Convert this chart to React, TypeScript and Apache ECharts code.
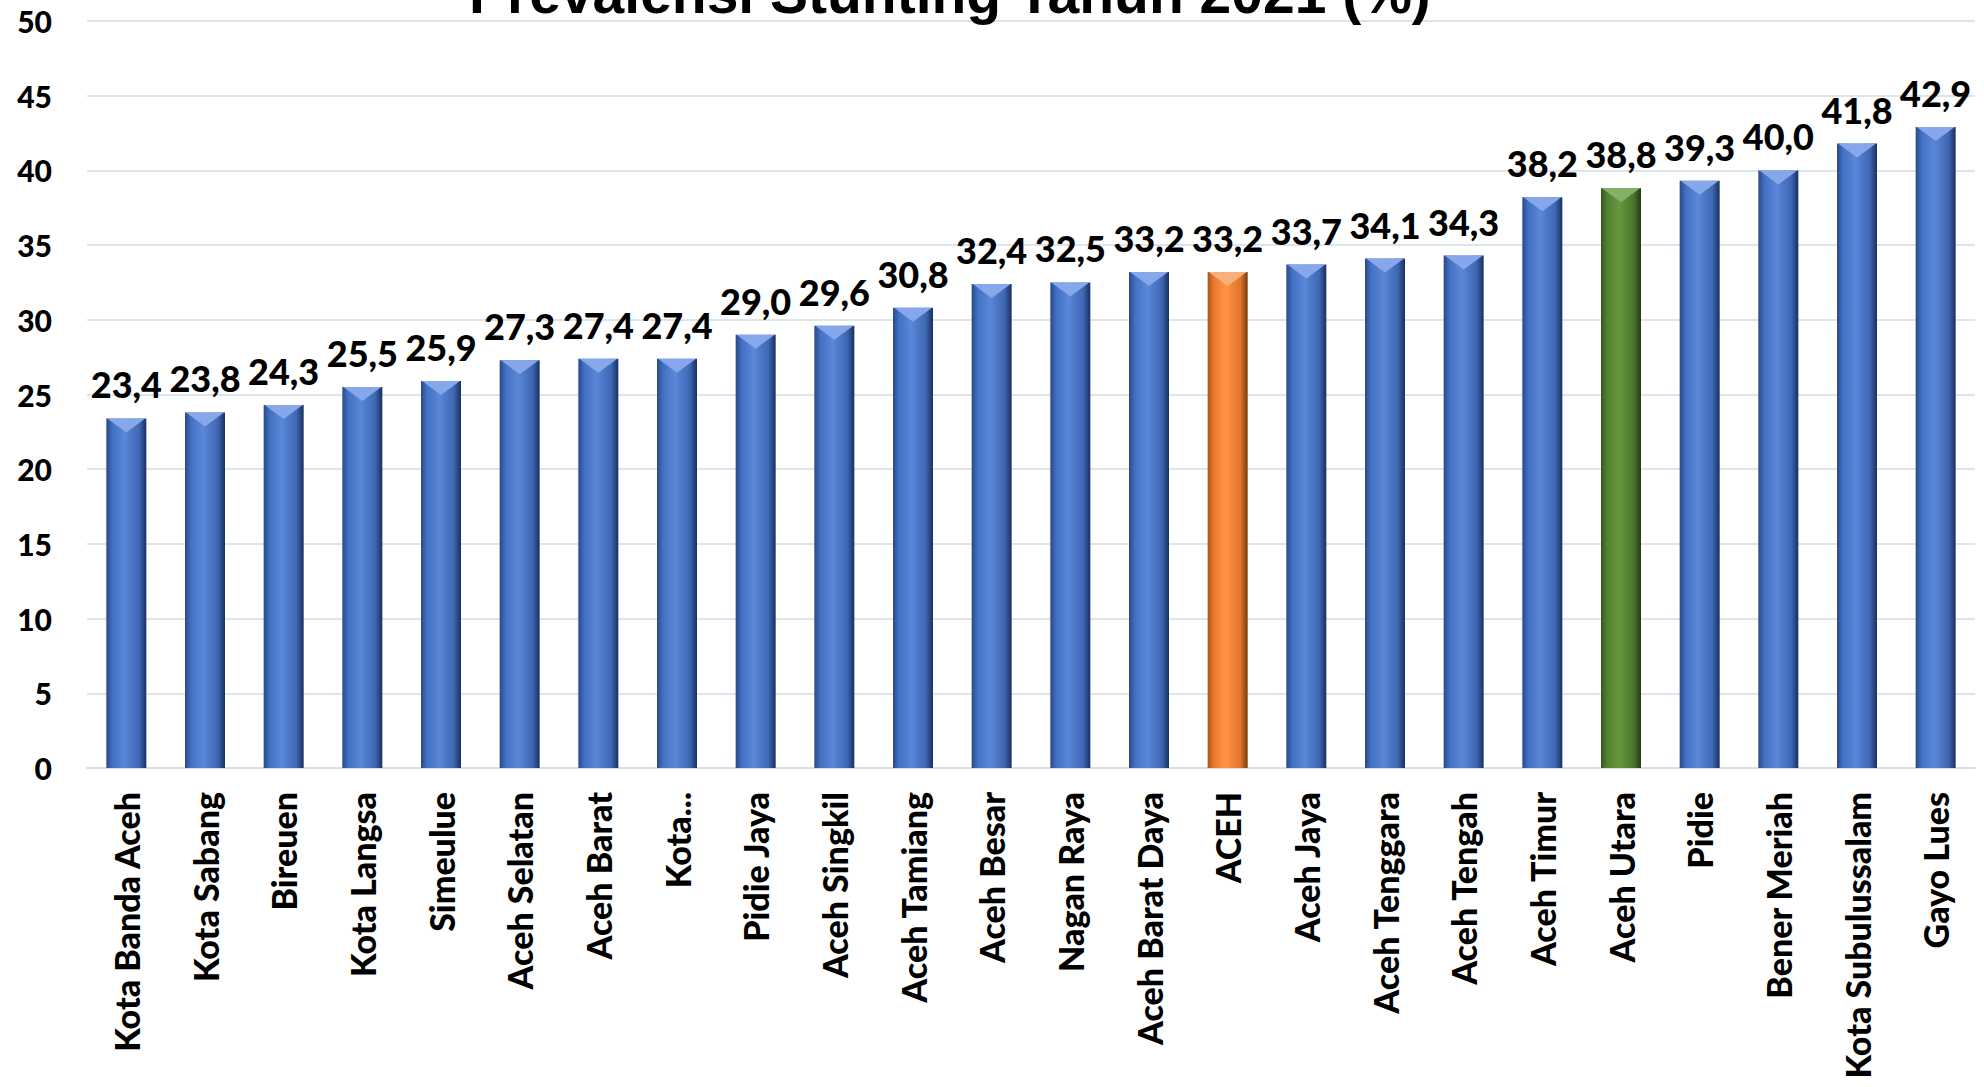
import React, { useEffect, useRef } from "react";
import * as echarts from "echarts";

const TITLE = "Prevalensi Stunting Tahun 2021 (%)";

const categories = [
  "Kota Banda Aceh", "Kota Sabang", "Bireuen", "Kota Langsa", "Simeulue",
  "Aceh Selatan", "Aceh Barat", "Kota...", "Pidie Jaya", "Aceh Singkil",
  "Aceh Tamiang", "Aceh Besar", "Nagan Raya", "Aceh Barat Daya", "ACEH",
  "Aceh Jaya", "Aceh Tenggara", "Aceh Tengah", "Aceh Timur", "Aceh Utara",
  "Pidie", "Bener Meriah", "Kota Subulussalam", "Gayo Lues",
];

const values = [
  23.4, 23.8, 24.3, 25.5, 25.9,
  27.3, 27.4, 27.4, 29.0, 29.6,
  30.8, 32.4, 32.5, 33.2, 33.2,
  33.7, 34.1, 34.3, 38.2, 38.8,
  39.3, 40.0, 41.8, 42.9,
];

const yTicks = [0, 5, 10, 15, 20, 25, 30, 35, 40, 45, 50];

const highlightOrange = ["ACEH"];
const highlightGreen = ["Aceh Utara"];

function barGradient(kind: string) {
  const stops =
    kind === "orange"
      ? ["#a9531a", "#e9782c", "#ff9447", "#e0742a", "#7a3a0e"]
      : kind === "green"
      ? ["#35561f", "#507f30", "#64983d", "#4a752c", "#233a14"]
      : ["#2a4987", "#4270c2", "#5a87d8", "#3f67b3", "#18305f"];
  return new echarts.graphic.LinearGradient(1, 0, 0, 0, [
    { offset: 0, color: stops[4] },
    { offset: 0.18, color: stops[3] },
    { offset: 0.55, color: stops[2] },
    { offset: 0.85, color: stops[1] },
    { offset: 1, color: stops[0] },
  ]);
}

function bevelColor(kind: string) {
  return kind === "orange" ? "#f8b07a" : kind === "green" ? "#86b064" : "#86a8ea";
}

function kindOf(name: string) {
  if (highlightOrange.includes(name)) return "orange";
  if (highlightGreen.includes(name)) return "green";
  return "blue";
}

export default function App() {
  const ref = useRef<HTMLDivElement>(null);

  useEffect(() => {
    if (!ref.current) return;
    const chart = echarts.init(ref.current, undefined, { renderer: "svg" });

    const barData = values.map((v, i) => ({
      value: v,
      itemStyle: { color: barGradient(kindOf(categories[i])) },
    }));
    const bevelData = values.map((v, i) => ({
      value: v,
      itemStyle: { color: bevelColor(kindOf(categories[i])) },
    }));

    const font = "Lato, 'Open Sans', sans-serif";

    chart.setOption({
      animation: false,
      backgroundColor: "#ffffff",
      title: {
        text: TITLE,
        left: 469,
        top: -36,
        padding: 0,
        textStyle: {
          fontFamily: "'Liberation Sans', Arial, sans-serif",
          fontWeight: "bold",
          fontSize: 57,
          color: "#000000",
        },
      },
      grid: { left: 87, right: 9, top: 21, bottom: 319, containLabel: false },
      xAxis: {
        type: "category",
        data: categories,
        axisTick: { show: false },
        axisLine: { show: true, lineStyle: { color: "#d9dee8", width: 2 } },
        axisLabel: {
          rotate: 90,
          interval: 0,
          margin: 24,
          fontFamily: font,
          fontWeight: 900,
          fontSize: 34,
          color: "#000000",
        },
      },
      yAxis: {
        type: "value",
        min: 0,
        max: 50,
        interval: 5,
        axisLine: { show: false },
        axisTick: { show: false },
        splitLine: { lineStyle: { color: "#dfe3ea", width: 2 } },
        axisLabel: {
          margin: 35,
          fontFamily: font,
          fontWeight: 900,
          fontSize: 30,
          color: "#000000",
          formatter: (v: number) => (yTicks.includes(v) ? String(v) : ""),
        },
      },
      series: [
        {
          type: "bar",
          data: barData,
          barWidth: 40,
          label: {
            show: true,
            position: "top",
            distance: 16,
            fontFamily: font,
            fontWeight: 900,
            fontSize: 36,
            color: "#000000",
            formatter: (p: any) => Number(p.value).toFixed(1).replace(".", ","),
          },
          z: 2,
        },
        {
          type: "pictorialBar",
          data: bevelData,
          symbol: "path://M0,0 L40,0 L20,14 Z",
          symbolSize: [38, 14],
          symbolPosition: "end",
          symbolOffset: [0, 0],
          silent: true,
          z: 3,
        },
      ],
    });

    return () => chart.dispose();
  }, []);

  return (
    <div
      ref={ref}
      style={{ position: "fixed", left: 0, top: 0, width: 1984, height: 1087 }}
    />
  );
}
